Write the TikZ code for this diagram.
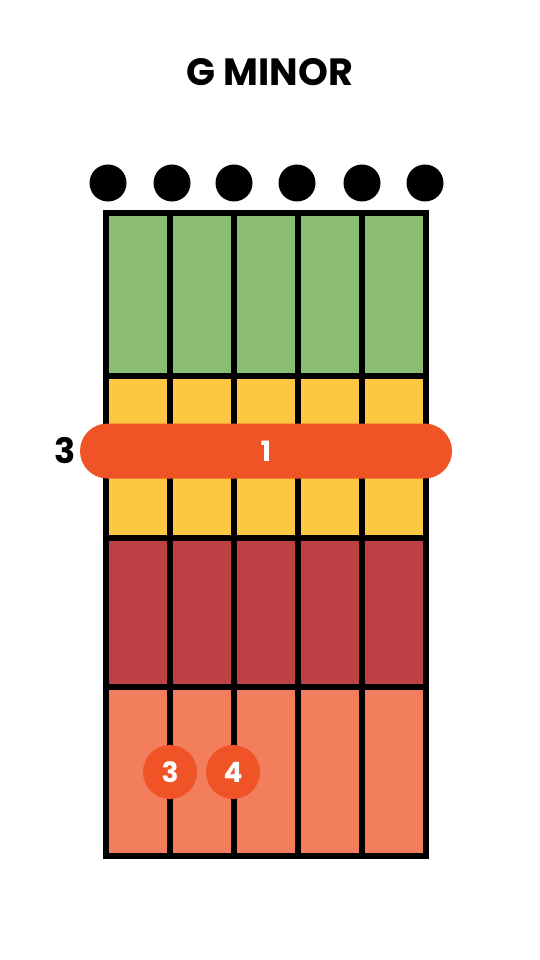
\documentclass[tikz,border=0pt]{standalone}
\usepackage{fontspec}
\setmainfont{Poppins}
\definecolor{cgreen}{HTML}{8BBE72}
\definecolor{cyellow}{HTML}{FCC841}
\definecolor{cred}{HTML}{BC4044}
\definecolor{csalmon}{HTML}{F27E5E}
\definecolor{corange}{HTML}{F05326}
\begin{document}
\begin{tikzpicture}[x=1pt,y=-1pt,
  opendot/.style={circle,fill=black,minimum size=37pt,inner sep=0pt},
  finger/.style={circle,fill=corange,minimum size=54pt,inner sep=0pt,text=white,font=\bfseries\fontsize{28}{28}\selectfont},
  gridline/.style={line width=5.5pt,black}]
\useasboundingbox (0,0) rectangle (540,960);
\fill[white] (0,0) rectangle (540,960);
\node[font=\bfseries\fontsize{38}{38}\selectfont] (title) at (270,72) {G MINOR};
% fret zones
\fill[cgreen] (106,213) rectangle (426,376);
\fill[cyellow] (106,376) rectangle (426,538);
\fill[cred] (106,538) rectangle (426,687);
\fill[csalmon] (106,687) rectangle (426,856);
% grid lines
\foreach \x in {106,170,234,298,362,426} \draw[gridline] (\x,213) -- (\x,856);
\foreach \y in {213,376,538,687,856} \draw[gridline,line cap=rect] (106,\y) -- (426,\y);
% open string dots
\foreach \x/\n in {108/d1,172/d2,234/d3,297/d4,362/d5,425/d6} \node[opendot] (\n) at (\x,183) {};
% barre
\node[fill=corange,rounded corners=27.5pt,minimum width=372pt,minimum height=55pt,inner sep=0pt,text=white,font=\bfseries\fontsize{28}{28}\selectfont] (barre) at (266,451) {1};
\node[font=\bfseries\fontsize{35}{35}\selectfont] (fret) at (65.5,451) {3};
% fingers
\node[finger] (f3) at (170,772) {3};
\node[finger] (f4) at (233,772) {4};
\end{tikzpicture}
\end{document}
